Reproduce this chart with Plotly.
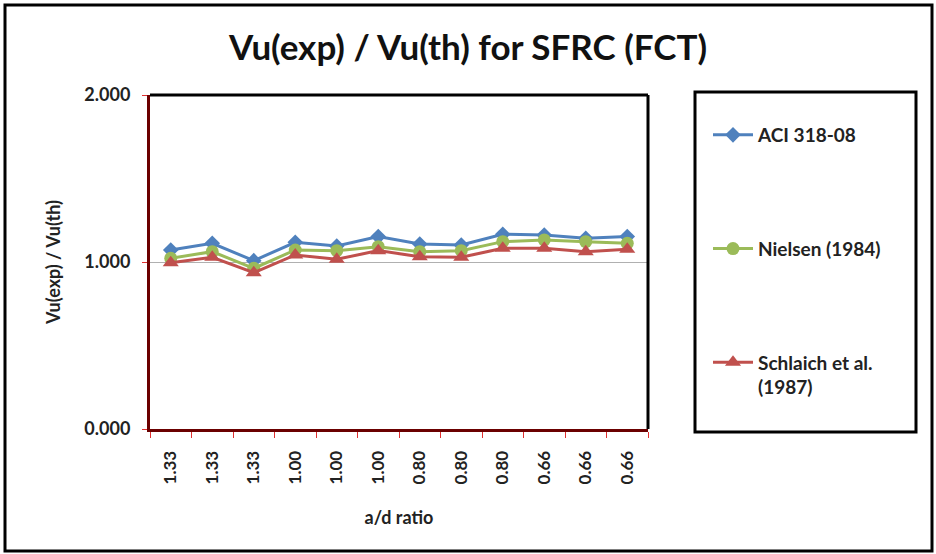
import plotly.graph_objects as go

categories = ["1.33", "1.33", "1.33", "1.00", "1.00", "1.00",
              "0.80", "0.80", "0.80", "0.66", "0.66", "0.66"]
aci = [1.072, 1.112, 1.008, 1.118, 1.096, 1.152, 1.108, 1.102, 1.166, 1.162, 1.142, 1.152]
nielsen = [1.022, 1.062, 0.962, 1.072, 1.068, 1.092, 1.062, 1.068, 1.122, 1.132, 1.122, 1.112]
schlaich = [0.996, 1.028, 0.936, 1.042, 1.016, 1.068, 1.032, 1.028, 1.082, 1.082, 1.062, 1.076]

x = list(range(len(categories)))
FONT = "Lato"

fig = go.Figure()
series = [
    ("ACI 318-08", aci, "#4F81BD", "diamond", 12),
    ("Nielsen (1984)", nielsen, "#9BBB59", "circle", 13),
    ("Schlaich et al.<br>(1987)", schlaich, "#C0504D", "triangle-up", 14),
]
for i, (name, vals, col, sym, sz) in enumerate(series):
    fig.add_trace(go.Scatter(
        x=x, y=vals, name=name, mode="lines+markers",
        line=dict(color=col, width=3),
        marker=dict(color=col, symbol=sym, size=sz),
        legendgroup=f"g{i}",
    ))

W, H = 936, 554
L, R, T, B = 150, 648, 95, 429
pw, ph = R - L, B - T

def px(v):
    return (v - L) / pw

def py(v):
    return (B - v) / ph

shapes = [
    # outer border
    dict(type="rect", xref="paper", yref="paper", x0=px(5), x1=px(932), y0=py(551), y1=py(5),
         line=dict(color="black", width=3), layer="below"),
    # plot frame top/right
    dict(type="line", xref="paper", yref="paper", x0=0, x1=1, y0=1, y1=1,
         line=dict(color="black", width=3)),
    dict(type="line", xref="paper", yref="paper", x0=1, x1=1, y0=0, y1=1,
         line=dict(color="black", width=3)),
    # legend box
    dict(type="rect", xref="paper", yref="paper", x0=px(695), x1=px(916), y0=py(432), y1=py(92),
         line=dict(color="black", width=3)),
]

fig.update_layout(
    width=W, height=H,
    margin=dict(l=L, r=W - R, t=T, b=H - B),
    paper_bgcolor="white", plot_bgcolor="white",
    font=dict(family=FONT, color="#222"),
    title=dict(text="Vu(exp) / Vu(th) for SFRC (FCT)", x=0.5, xref="container",
               xanchor="center", y=1 - 48 / H, yanchor="middle",
               font=dict(family=FONT, size=35, weight="bold", color="#111")),
    showlegend=True,
    legend=dict(x=px(708), y=py(116), xanchor="left", yanchor="top",
                traceorder="grouped", tracegroupgap=86, valign="top",
                font=dict(family=FONT, size=19, weight="bold", color="#222"),
                bgcolor="rgba(0,0,0,0)", itemwidth=40),
    shapes=shapes,
    xaxis=dict(
        range=[-0.5, 11.5], tickmode="array", tickvals=x, ticktext=categories,
        tickangle=-90, ticks="", showgrid=False, zeroline=False,
        showline=True, linecolor="#6b0000", linewidth=3,
        ticklabelstandoff=12,
        tickfont=dict(family=FONT, size=17, weight="bold", color="#222"),
        title=dict(text="a/d ratio", font=dict(family=FONT, size=18, weight="bold", color="#222"),
                   standoff=28),
        minor=dict(tickmode="array", tickvals=[v - 0.5 for v in range(13)],
                   ticks="outside", ticklen=6, tickcolor="#e03030", tickwidth=1, showgrid=False),
    ),
    yaxis=dict(
        range=[0, 2], tickmode="array", tickvals=[0, 1, 2],
        ticktext=["0.000", "1.000", "2.000"],
        ticks="outside", ticklen=5, tickcolor="#e03030",
        ticklabelstandoff=8,
        showgrid=True, gridcolor="#b0b0b0", gridwidth=1, zeroline=False,
        showline=True, linecolor="#6b0000", linewidth=3,
        tickfont=dict(family=FONT, size=18, weight="bold", color="#222"),
        title=dict(text="Vu(exp) / Vu(th)", font=dict(family=FONT, size=18, weight="bold", color="#222"),
                   standoff=20),
    ),
)

fig.write_html("out.html", config={"displayModeBar": False},
               post_script="document.body.style.margin='0';document.body.style.padding='0';")
